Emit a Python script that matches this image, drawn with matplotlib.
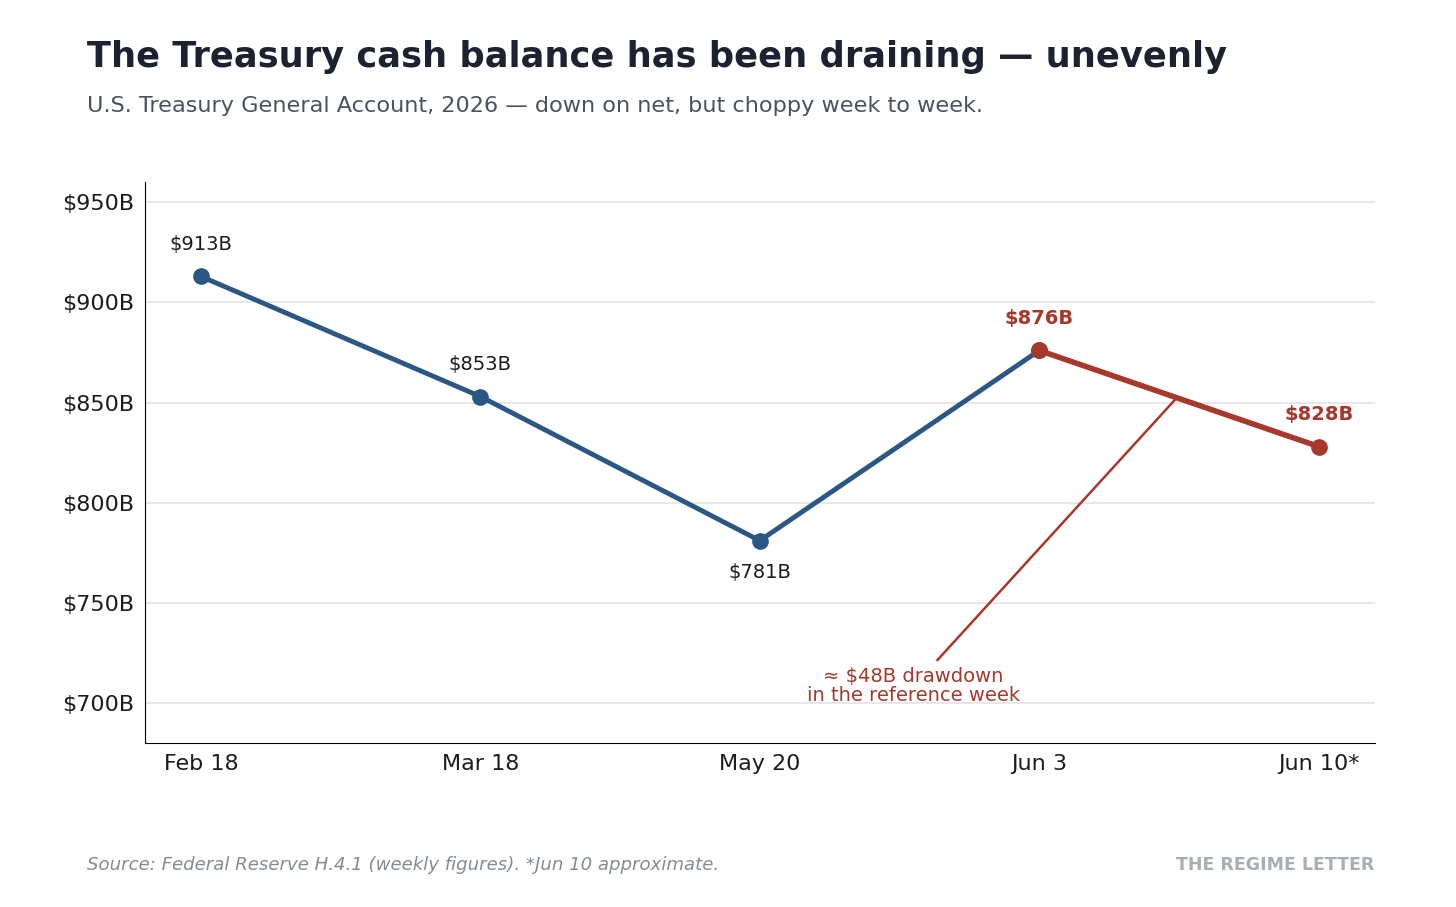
import matplotlib
matplotlib.use("Agg")
import matplotlib.pyplot as plt

dates = ["Feb 18", "Mar 18", "May 20", "Jun 3", "Jun 10*"]
values = [913, 853, 781, 876, 828]
yticks = [700, 750, 800, 850, 900, 950]

blue = "#2a5783"
red = "#a8372c"

fig = plt.figure(figsize=(14.56, 9.07), dpi=100)
ax = fig.add_axes([0.0996, 0.181, 0.8445, 0.618])
x = list(range(len(dates)))

ax.plot(x[:4], values[:4], color=blue, lw=3.5, marker="o", ms=11, zorder=3)
ax.plot(x[3:], values[3:], color=red, lw=4, marker="o", ms=11, zorder=4)

for i, v in enumerate(values):
    if i >= 3:
        ax.annotate(f"${v}B", (i, v), xytext=(0, 16), textcoords="offset points",
                    ha="center", va="bottom", fontsize=14, color=red, fontweight="bold")
    elif i == 2:
        ax.annotate(f"${v}B", (i, v), xytext=(0, -16), textcoords="offset points",
                    ha="center", va="top", fontsize=14, color="#1c1c1c")
    else:
        ax.annotate(f"${v}B", (i, v), xytext=(0, 16), textcoords="offset points",
                    ha="center", va="bottom", fontsize=14, color="#1c1c1c")

ax.plot([2.636, 3.489], [721.4, 851.9], color=red, lw=1.8, zorder=2)
ax.text(2.55, 708.5, "≈ $48B drawdown\nin the reference week", ha="center", va="center",
        fontsize=14, color=red, linespacing=1.0)

ax.set_xlim(-0.2, 4.2)
ax.set_ylim(680, 960)
ax.set_xticks(x)
ax.set_xticklabels(dates)
ax.set_yticks(yticks)
ax.set_yticklabels([f"${t}B" for t in yticks])
ax.tick_params(labelsize=16, length=0, pad=8, colors="#1c1c1c")
ax.grid(axis="y", color="#e3e3e3", lw=1.2)
ax.set_axisbelow(True)
for s in ["top", "right"]:
    ax.spines[s].set_visible(False)

fig.text(0.06, 0.937, "The Treasury cash balance has been draining — unevenly",
         fontsize=25.4, fontweight="bold", color="#1e2230", va="center")
fig.text(0.06, 0.883, "U.S. Treasury General Account, 2026 — down on net, but choppy week to week.",
         fontsize=16.1, color="#4a5260", va="center")
fig.text(0.06, 0.046, "Source: Federal Reserve H.4.1 (weekly figures). *Jun 10 approximate.",
         fontsize=13.1, style="italic", color="#858b94", va="center")
fig.text(0.944, 0.046, "THE REGIME LETTER", fontsize=12.5, fontweight="bold",
         color="#a9aeb4", ha="right", va="center")

fig.savefig("out.png", dpi=100)
